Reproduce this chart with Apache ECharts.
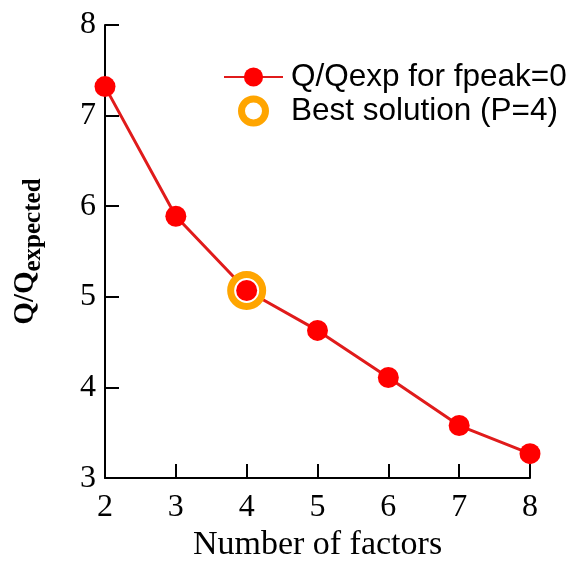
<!DOCTYPE html>
<html><head><meta charset="utf-8">
<script src="https://cdn.jsdelivr.net/npm/echarts@6/dist/echarts.min.js"></script>
<style>html,body{margin:0;padding:0;background:#fff}#c{width:576px;height:567px}</style>
</head><body><div id="c"></div>
<script>
const factors = [2, 3, 4, 5, 6, 7, 8];
const qRatio = [7.32, 5.89, 5.07, 4.63, 4.11, 3.58, 3.27];
const bestFactors = [4];
const bestRatio = [5.07];
const seriesNames = ['Q/Qexp for fpeak=0', 'Best solution (P=4)'];

const chart = echarts.init(document.getElementById('c'), null, {renderer: 'canvas'});
const serif = '"Liberation Serif", "Times New Roman", serif';
const sans = '"Liberation Sans", Arial, sans-serif';
chart.setOption({
  animation: false,
  backgroundColor: '#fff',
  grid: {left: 105, right: 46, top: 25, bottom: 81, containLabel: false},
  legend: {
    left: 218, top: 56, orient: 'vertical', itemWidth: 59, itemHeight: 24, itemGap: 2,
    textStyle: {fontFamily: sans, fontSize: 31.5, color: '#000', lineHeight: 32, padding: [0,0,0,3]},
    data: [
      {name: seriesNames[0]},
      {name: seriesNames[1], itemStyle: {borderWidth: 7, borderColor: '#ffa500', color: '#fff', opacity: 1}}
    ]
  },
  xAxis: {
    type: 'value', min: 2, max: 8, interval: 1,
    name: 'Number of factors', nameLocation: 'middle', nameGap: 48,
    nameTextStyle: {fontFamily: serif, fontSize: 34, color: '#000'},
    axisLine: {show: true, lineStyle: {color: '#000', width: 2}},
    axisTick: {show: true, inside: true, length: 14, lineStyle: {color: '#000', width: 2}},
    axisLabel: {fontFamily: serif, fontSize: 32, color: '#000', margin: 13},
    splitLine: {show: false}
  },
  yAxis: {
    type: 'value', min: 3, max: 8, interval: 1,
    name: '{a|Q/Q}{b|expected}', nameLocation: 'middle', nameGap: 59, nameRotate: 90,
    nameTextStyle: {
      rich: {
        a: {fontFamily: serif, fontSize: 29, fontWeight: 'bold', color: '#000'},
        b: {fontFamily: serif, fontSize: 25, fontWeight: 'bold', color: '#000', verticalAlign: 'bottom', padding: [16, 0, 0, 0]}
      }
    },
    axisLine: {show: true, lineStyle: {color: '#000', width: 2}},
    axisTick: {show: true, inside: true, length: 14, lineStyle: {color: '#000', width: 2}},
    axisLabel: {fontFamily: serif, fontSize: 32, color: '#000', margin: 9},
    splitLine: {show: false}
  },
  series: [
    {
      name: seriesNames[0], type: 'line', z: 2,
      data: factors.map((f, i) => [f, qRatio[i]]),
      symbol: 'circle', symbolSize: 21,
      lineStyle: {color: '#e01b1b', width: 3},
      itemStyle: {color: '#ff0000', borderWidth: 0}
    },
    {
      name: seriesNames[1], type: 'scatter', z: 3,
      data: bestFactors.map((f, i) => [f, bestRatio[i]]),
      symbol: 'circle', symbolSize: 32,
      itemStyle: {color: '#fff', borderColor: '#ffa500', borderWidth: 7, opacity: 1}
    },
    {
      name: 'overlay', type: 'scatter', z: 4,
      data: bestFactors.map((f, i) => [f, bestRatio[i]]),
      symbol: 'circle', symbolSize: 21,
      itemStyle: {color: '#ff0000', opacity: 1}
    }
  ]
});
</script></body></html>
